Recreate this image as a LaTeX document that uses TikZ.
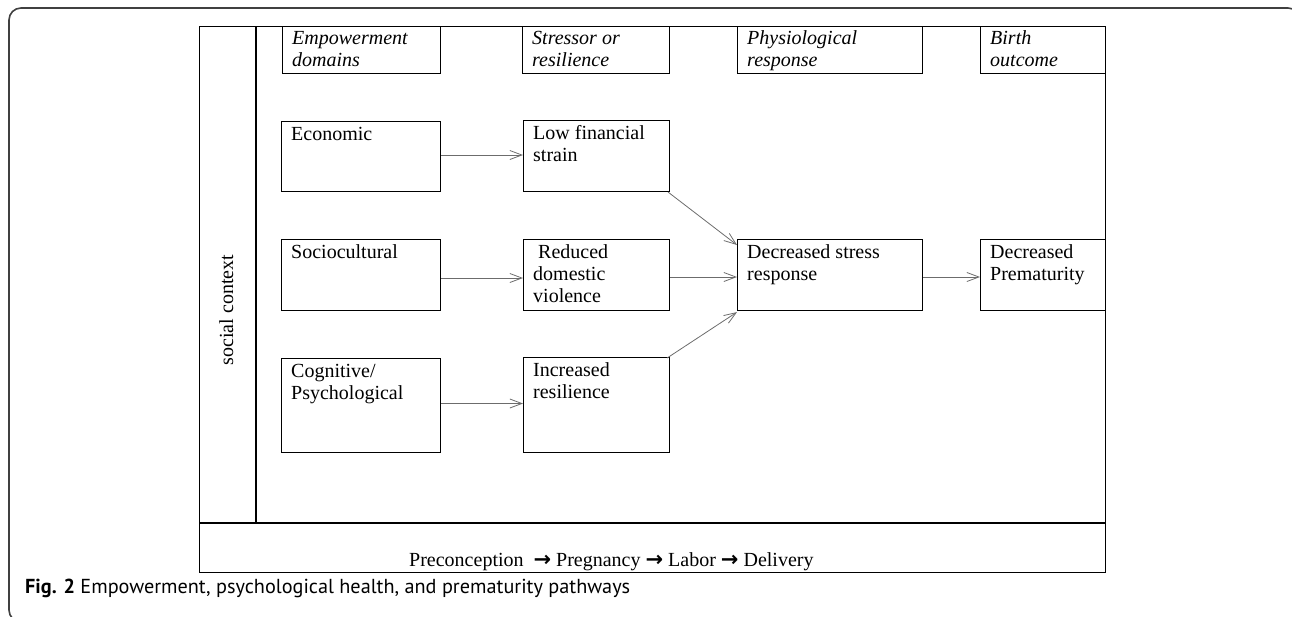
\documentclass[tikz,border=0pt]{standalone}
\usepackage{fontspec}
\setmainfont{Liberation Serif}[ItalicFont={Liberation Serif Italic},BoldFont={Liberation Serif Bold}]
\newfontfamily\capfont{PT Sans}
\newfontfamily\arrfont{DejaVu Sans Bold}
\newfontfamily\hdrfont{Liberation Serif Italic}
\usetikzlibrary{arrows.meta,calc}
\begin{document}
\begin{tikzpicture}[x=1pt,y=-1pt,
  boxstyle/.style={draw=black,line width=1.1pt,inner sep=0pt,anchor=north west},
  lblstyle/.style={anchor=north west,inner sep=0pt,align=left,font=\fontsize{20}{22}\selectfont},
  hdrstyle/.style={lblstyle,font=\hdrfont\fontsize{20}{22}\selectfont},
  linkstyle/.style={draw=gray!85!black,line width=0.8pt,-{Straight Barb[length=12pt,width=9pt]}},
  framestyle/.style={draw=black!75,line width=1.6pt,rounded corners=12pt}]
\useasboundingbox (0,0) rectangle (1292,616);
\clip (0,0) rectangle (1292,616);
% outer frame
\draw[framestyle] (9,8) rectangle (1300,622);
% main frame
\node[boxstyle,minimum width=906pt,minimum height=546pt] (main) at (199,26) {};
\coordinate (bandL) at (199,523);
\coordinate (bandR) at (1105,523);
\draw[line width=1.1pt] (bandL) -- (bandR);
\coordinate (vtop) at (256,26);
\coordinate (vbot) at (256,523);
\draw[line width=1.1pt] (vtop) -- (vbot);
% header boxes
\node[boxstyle,minimum width=158pt,minimum height=47pt] (h1) at (282,26) {};
\node[boxstyle,minimum width=147pt,minimum height=47pt] (h2) at (522,26) {};
\node[boxstyle,minimum width=185pt,minimum height=47pt] (h3) at (737,26) {};
\node[boxstyle,minimum width=125pt,minimum height=47pt] (h4) at (980,26) {};
\node[hdrstyle] (t1) at ($(h1.north west)+(10,4)$) {\rule{0pt}{14pt}Empowerment\\domains};
\node[hdrstyle] (t2) at ($(h2.north west)+(10,4)$) {\rule{0pt}{14pt}Stressor or\\resilience};
\node[hdrstyle] (t3) at ($(h3.north west)+(10,4)$) {\rule{0pt}{14pt}Physiological\\response};
\node[hdrstyle] (t4) at ($(h4.north west)+(10,4)$) {\rule{0pt}{14pt}Birth\\outcome};
% content boxes
\node[boxstyle,minimum width=159pt,minimum height=70pt] (econ) at (281,121) {};
\node[boxstyle,minimum width=159pt,minimum height=71pt] (socio) at (281,239) {};
\node[boxstyle,minimum width=159pt,minimum height=94pt] (cog) at (281,358) {};
\node[boxstyle,minimum width=146pt,minimum height=71pt] (lowfin) at (523,120) {};
\node[boxstyle,minimum width=146pt,minimum height=71pt] (reduced) at (523,239) {};
\node[boxstyle,minimum width=146pt,minimum height=95pt] (incr) at (523,357) {};
\node[boxstyle,minimum width=185pt,minimum height=71pt] (stress) at (737,239) {};
\node[boxstyle,minimum width=125pt,minimum height=71pt] (premat) at (980,239) {};
\node[lblstyle] (l1) at ($(econ.north west)+(10,5)$) {\rule{0pt}{14pt}Economic};
\node[lblstyle] (l2) at ($(socio.north west)+(10,5)$) {\rule{0pt}{14pt}Sociocultural};
\node[lblstyle] (l3) at ($(cog.north west)+(10,5)$) {\rule{0pt}{14pt}Cognitive/\\Psychological};
\node[lblstyle] (l4) at ($(lowfin.north west)+(10,5)$) {\rule{0pt}{14pt}Low financial\\strain};
\node[lblstyle] (l5) at ($(reduced.north west)+(10,5)$) {\rule{0pt}{14pt}\hspace*{5pt}Reduced\\domestic\\violence};
\node[lblstyle] (l6) at ($(incr.north west)+(10,5)$) {\rule{0pt}{14pt}Increased\\resilience};
\node[lblstyle] (l7) at ($(stress.north west)+(10,5)$) {\rule{0pt}{14pt}Decreased stress\\response};
\node[lblstyle] (l8) at ($(premat.north west)+(10,5)$) {\rule{0pt}{14pt}Decreased\\Prematurity};
% connectors
\draw[linkstyle] (econ.east |- 0,155) -- (lowfin.west |- 0,155);
\draw[linkstyle] (socio.east |- 0,278) -- (reduced.west |- 0,278);
\draw[linkstyle] (cog.east |- 0,403.5) -- (incr.west |- 0,403.5);
\draw[linkstyle] ($(lowfin.south east)+(-2,0)$) -- ($(stress.north west)+(0,6)$);
\draw[linkstyle] (reduced.east |- 0,277) -- (stress.west |- 0,277);
\draw[linkstyle] ($(incr.north east)+(-3,1)$) -- ($(stress.south west)+(0,1)$);
\draw[linkstyle] (stress.east |- 0,277) -- (premat.west |- 0,277);
% side and bottom texts
\node[anchor=base,rotate=90,inner sep=0pt,font=\fontsize{20}{22}\selectfont] (soc) at (233,310) {social context};
\node[anchor=base west,inner sep=0pt,font=\fontsize{20}{22}\selectfont] (phases) at (409,566)
  {Preconception\ \ {\arrfont\fontsize{21}{22}\selectfont →}\ Pregnancy\ {\arrfont\fontsize{21}{22}\selectfont →}\ Labor\ {\arrfont\fontsize{21}{22}\selectfont →}\ Delivery};
% caption
\node[anchor=base west,inner sep=0pt] (cap) at (25,593)
  {\resizebox{605pt}{!}{\capfont\fontsize{15}{18}\selectfont\textbf{Fig. 2} Empowerment, psychological health, and prematurity pathways}};
\end{tikzpicture}
\end{document}
